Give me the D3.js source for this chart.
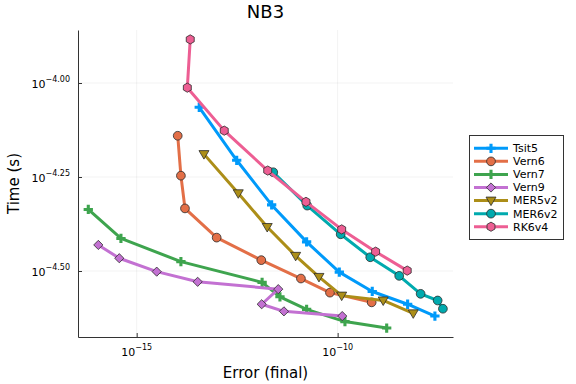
<!DOCTYPE html>
<html lang="en">
<head>
<meta charset="UTF-8">
<title>NB3</title>
<script src="https://d3js.org/d3.v7.min.js"></script>
<style>
  body { margin: 0; background: white; }
  text { font-family: "DejaVu Sans", sans-serif; fill: #000; }
  .grid line { stroke: #000; stroke-opacity: 0.1; stroke-width: 0.5; }
  .series path.line { fill: none; stroke-width: 3; stroke-linejoin: round; }
</style>
</head>
<body>
<script>
// series data: [error (final), time (s)]
var names = ["Tsit5", "Vern6", "Vern7", "Vern9", "MER5v2", "MER6v2", "RK6v4"];
var colors = ["#009AFA", "#E36F47", "#3EA44E", "#C371D2", "#AC8E18", "#00AAAE", "#ED5E93"];
var shapes = ["cross", "circle", "cross", "diamond", "dtriangle", "circle", "hexagon"];

var tsit5Err  = [3.60e-14, 3.08e-13, 2.28e-12, 1.69e-11, 1.10e-10, 7.26e-10, 5.51e-9, 2.63e-8];
var tsit5Time = [8.62e-5, 6.23e-5, 4.74e-5, 3.78e-5, 3.14e-5, 2.79e-5, 2.58e-5, 2.40e-5];
var vern6Err  = [1.05e-14, 1.26e-14, 1.59e-14, 9.77e-14, 1.26e-12, 1.22e-11, 6.44e-11, 7.02e-10];
var vern6Time = [7.24e-5, 5.67e-5, 4.64e-5, 3.88e-5, 3.38e-5, 3.02e-5, 2.77e-5, 2.61e-5];
var vern7Err  = [6.25e-17, 4.06e-16, 1.26e-14, 1.32e-12, 3.67e-12, 1.69e-11, 1.52e-10, 1.66e-9];
var vern7Time = [4.61e-5, 3.86e-5, 3.35e-5, 2.95e-5, 2.70e-5, 2.50e-5, 2.32e-5, 2.23e-5];
var vern9Err  = [1.11e-16, 3.69e-16, 3.15e-15, 3.29e-14, 3.33e-12, 1.29e-12, 4.61e-12, 1.30e-10];
var vern9Time = [3.71e-5, 3.42e-5, 3.15e-5, 2.96e-5, 2.83e-5, 2.58e-5, 2.47e-5, 2.40e-5];
var mer5Err   = [4.72e-14, 3.37e-13, 1.77e-12, 9.02e-12, 3.43e-11, 1.26e-10, 1.36e-9, 7.60e-9];
var mer5Time  = [6.47e-5, 5.09e-5, 4.14e-5, 3.47e-5, 3.05e-5, 2.72e-5, 2.64e-5, 2.44e-5];
var mer6Err   = [2.50e-12, 1.75e-11, 1.19e-10, 6.47e-10, 3.40e-9, 1.16e-8, 3.08e-8, 4.16e-8];
var mer6Time  = [5.79e-5, 4.72e-5, 3.96e-5, 3.44e-5, 3.07e-5, 2.75e-5, 2.64e-5, 2.51e-5];
var rk6Err    = [2.15e-14, 1.82e-14, 1.51e-13, 1.82e-12, 1.63e-11, 1.26e-10, 8.80e-10, 5.38e-9];
var rk6Time   = [1.306e-4, 9.72e-5, 7.47e-5, 5.85e-5, 4.83e-5, 4.08e-5, 3.56e-5, 3.17e-5];

var errs  = [tsit5Err, vern6Err, vern7Err, vern9Err, mer5Err, mer6Err, rk6Err];
var times = [tsit5Time, vern6Time, vern7Time, vern9Time, mer5Time, mer6Time, rk6Time];

var xTicks = [1e-15, 1e-10];
var xTickExp = ["\u221215", "\u221210"];
var yTicks = [Math.pow(10, -4.0), Math.pow(10, -4.25), Math.pow(10, -4.5)];
var yTickExp = ["\u22124.00", "\u22124.25", "\u22124.50"];

var W = 576, H = 384;
var pLeft = 78, pRight = 453, pTop = 30, pBottom = 337;

var svg = d3.select("body").append("svg").attr("width", W).attr("height", H);

var x = d3.scaleLog().domain([Math.pow(10, -16.46), Math.pow(10, -7.13)]).range([pLeft, pRight]);
var y = d3.scaleLog().domain([Math.pow(10, -4.6755), Math.pow(10, -3.859)]).range([pBottom, pTop]);

// grid
var grid = svg.append("g").attr("class", "grid");
grid.selectAll(".gx").data(xTicks).enter().append("line")
    .attr("x1", function(d){ return x(d); }).attr("x2", function(d){ return x(d); })
    .attr("y1", pTop).attr("y2", pBottom);
grid.selectAll(".gy").data(yTicks).enter().append("line")
    .attr("x1", pLeft).attr("x2", pRight)
    .attr("y1", function(d){ return y(d); }).attr("y2", function(d){ return y(d); });

// axes (left + bottom spines, inward ticks)
var xAxis = d3.axisBottom(x).tickValues(xTicks).tickSize(-4).tickSizeOuter(0).tickFormat("");
var yAxis = d3.axisLeft(y).tickValues(yTicks).tickSize(-4).tickSizeOuter(0).tickFormat("");
var gx = svg.append("g").attr("transform", "translate(0," + pBottom + ")").call(xAxis);
var gy = svg.append("g").attr("transform", "translate(" + pLeft + ",0)").call(yAxis);
[gx, gy].forEach(function(g){
  g.select(".domain").attr("stroke", "#333").attr("stroke-width", 1);
  g.selectAll(".tick line").attr("stroke", "#333").attr("stroke-width", 1);
});

// tick labels as 10^exp
xTicks.forEach(function(t, i){
  var tx = svg.append("text").attr("x", x(t)).attr("y", 356)
      .attr("text-anchor", "middle").style("font-size", "11px");
  tx.append("tspan").text("10");
  tx.append("tspan").attr("dy", -6).style("font-size", "8px").text(xTickExp[i]);
});
yTicks.forEach(function(t, i){
  var ty = svg.append("text").attr("x", 70).attr("y", y(t) + 5)
      .attr("text-anchor", "end").style("font-size", "11px");
  ty.append("tspan").text("10");
  ty.append("tspan").attr("dy", -6).style("font-size", "8px").text(yTickExp[i]);
});

// markers
function markerPath(shape) {
  if (shape === "cross") return d3.symbol().type(d3.symbolCross).size(48)();
  if (shape === "diamond") { var r = 4.6; return "M0," + (-r) + "L" + r + ",0L0," + r + "L" + (-r) + ",0Z"; }
  if (shape === "dtriangle") return "M-5,-3.5L5,-3.5L0,5Z";
  if (shape === "hexagon") {
    var pts = d3.range(6).map(function(k){ var a = Math.PI / 6 + k * Math.PI / 3; return [4.6 * Math.cos(a), 4.6 * Math.sin(a)]; });
    return "M" + pts.join("L") + "Z";
  }
  return d3.symbol().type(d3.symbolCircle).size(60)();
}
function drawMarker(g, shape, color) {
  var p = g.append("path").attr("d", markerPath(shape)).attr("fill", color);
  if (shape === "cross") p.attr("stroke", "none");
  else p.attr("stroke", "#2b2b2b").attr("stroke-width", 0.8);
}

var line = d3.line().x(function(d){ return x(d[0]); }).y(function(d){ return y(d[1]); });

names.forEach(function(n, i){
  var pts = errs[i].map(function(e, j){ return [e, times[i][j]]; });
  var g = svg.append("g").attr("class", "series");
  g.append("path").attr("class", "line").attr("d", line(pts)).attr("stroke", colors[i]);
  pts.forEach(function(p){
    var m = g.append("g").attr("transform", "translate(" + x(p[0]) + "," + y(p[1]) + ")");
    drawMarker(m, shapes[i], colors[i]);
  });
});

// title and axis labels
svg.append("text").attr("x", (pLeft + pRight) / 2).attr("y", 18).attr("text-anchor", "middle")
   .style("font-size", "18px").text("NB3");
svg.append("text").attr("x", (pLeft + pRight) / 2).attr("y", 378).attr("text-anchor", "middle")
   .style("font-size", "15px").text("Error (final)");
svg.append("text").attr("transform", "translate(19," + ((pTop + pBottom) / 2) + ") rotate(-90)")
   .attr("text-anchor", "middle").style("font-size", "15px").text("Time (s)");

// legend
var lg = svg.append("g");
lg.append("rect").attr("x", 469.5).attr("y", 135.5).attr("width", 94).attr("height", 104)
  .attr("fill", "white").attr("stroke", "#333").attr("stroke-width", 1);
names.forEach(function(n, i){
  var ly = 148.3 + i * 13.07;
  lg.append("line").attr("x1", 474).attr("x2", 508).attr("y1", ly).attr("y2", ly)
    .attr("stroke", colors[i]).attr("stroke-width", 3);
  var m = lg.append("g").attr("transform", "translate(491," + ly + ")");
  drawMarker(m, shapes[i], colors[i]);
  lg.append("text").attr("x", 513).attr("y", ly).attr("dy", "0.35em")
    .style("font-size", "11px").text(n);
});
</script>
</body>
</html>
